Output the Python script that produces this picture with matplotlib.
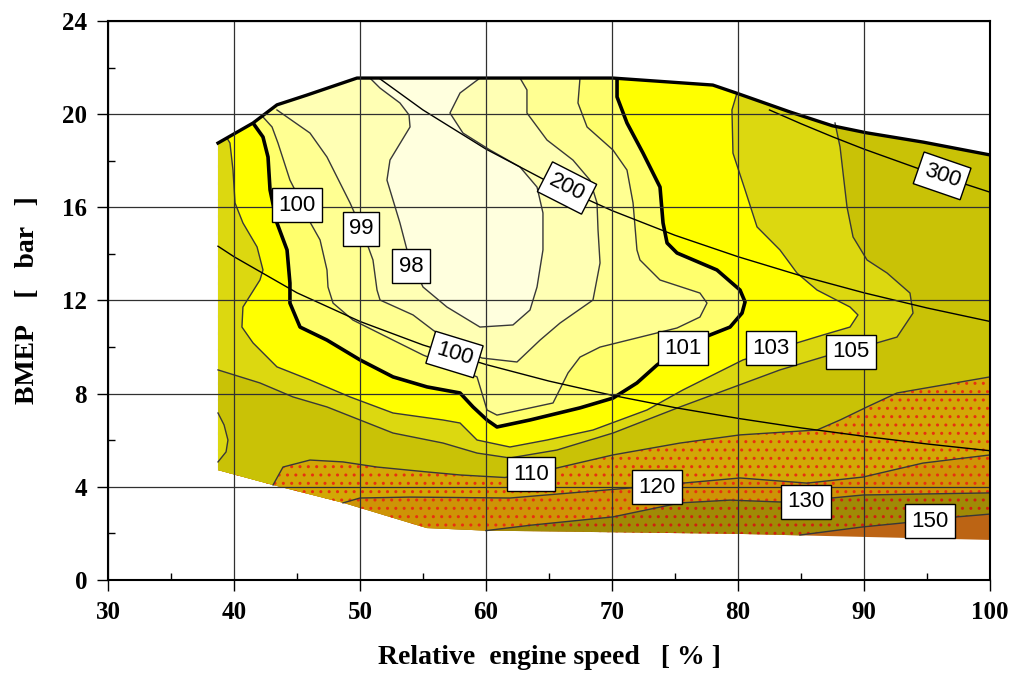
import matplotlib
matplotlib.use('Agg')
import matplotlib.pyplot as plt
from matplotlib.patches import Polygon
from matplotlib.ticker import MultipleLocator
import numpy as np

# ---------------- data ----------------
# operating envelope (relative speed %, BMEP bar)
ENV_X = [38.73, 38.73, 41.51, 43.41, 45.79, 49.76, 70.08, 78.0, 79.9, 84.1, 87.5, 90.2, 94.7, 100.0,
         100.0, 90.0, 80.0, 70.0, 60.0, 55.3, 48.7, 43.1]
ENV_Y = [4.72, 18.76, 19.62, 20.40, 20.82, 21.55, 21.55, 21.25, 20.9, 20.1, 19.5, 19.2, 18.8, 18.25,
         1.72, 1.85, 1.98, 2.05, 2.12, 2.23, 3.31, 4.08]

# relative BSFC iso-lines
X98 = [50.79, 51.59, 53.17, 53.89, 53.97, 52.38, 52.14, 53.17, 53.73, 54.37, 55.0, 56.90, 59.52, 62.14,
       63.49, 64.05, 64.52, 64.52, 64.05, 62.70, 60.32, 58.17, 57.14, 57.94, 59.52]
Y98 = [21.55, 21.12, 20.48, 19.97, 19.45, 18.03, 17.17, 15.33, 14.17, 13.31, 12.58, 11.72, 10.86, 10.95,
       11.59, 12.58, 14.17, 15.76, 16.87, 17.73, 18.46, 19.19, 20.05, 20.91, 21.55]

X99 = [43.41, 46.03, 47.38, 49.21, 50.16, 51.03, 51.35, 51.59, 54.21, 55.79, 57.78, 59.68, 62.46, 64.29,
       65.87, 68.49, 69.05, 68.89, 68.81, 68.25, 66.90, 64.84, 63.25, 63.25, 62.70]
Y99 = [20.18, 19.19, 18.16, 16.19, 15.03, 13.74, 12.45, 12.02, 11.38, 10.73, 10.00, 9.53, 9.36, 10.30,
       11.03, 12.02, 13.61, 15.03, 16.19, 17.17, 18.03, 18.89, 20.05, 21.04, 21.55]

X100 = [42.30, 43.02, 43.49, 44.44, 45.24, 46.03, 46.83, 47.38, 47.46, 47.86, 49.44, 52.62, 55.0, 59.29,
        60.08, 60.87, 65.32, 66.51, 67.46, 69.05, 75.16, 76.98, 77.54, 76.98, 73.81, 72.22, 71.98, 71.67,
        71.19, 70.08, 68.02, 67.30, 67.46]
Y100 = [19.88, 19.45, 18.76, 17.17, 16.32, 15.37, 14.60, 13.31, 12.58, 11.89, 11.16, 10.30, 9.66, 8.72,
        7.30, 7.08, 7.60, 8.89, 9.57, 10.00, 10.82, 11.29, 11.89, 12.32, 12.88, 13.74, 14.17, 16.19,
        17.60, 18.46, 19.45, 20.48, 21.55]

X101 = [41.51, 42.30, 42.70, 42.86, 43.41, 44.21, 44.44, 44.44, 45.24, 47.38, 50.0, 52.62, 55.32, 57.94,
        58.97, 60.08, 60.87, 63.49, 67.46, 70.08, 71.98, 73.57, 75.6, 77.78, 79.37, 80.32, 80.56, 80.16,
        78.33, 75.16, 74.37, 74.05, 73.81, 72.46, 71.19, 70.40, 70.40]
Y101 = [19.62, 19.02, 18.16, 16.75, 15.33, 14.17, 12.75, 11.89, 10.86, 10.30, 9.45, 8.72, 8.29, 8.03,
        7.43, 6.87, 6.57, 6.87, 7.39, 7.81, 8.46, 9.23, 10.0, 10.52, 10.86, 11.46, 11.94, 12.45,
        13.31, 14.04, 14.47, 15.33, 16.87, 18.33, 19.62, 20.74, 21.55]

X103 = [39.44, 39.68, 39.92, 40.08, 40.71, 41.83, 42.30, 42.06, 40.71, 40.63, 41.51, 43.41, 46.03, 49.21,
        52.62, 56.59, 57.94, 59.29, 61.90, 64.84, 68.49, 72.78, 75.63, 80.40, 82.54, 84.68, 86.75, 88.89,
        89.52, 88.89, 86.27, 84.68, 83.33, 81.51, 80.56, 79.60, 79.52, 79.92]
Y103 = [18.98, 18.76, 17.60, 16.19, 15.33, 14.30, 13.31, 12.88, 11.72, 10.86, 10.18, 9.15, 8.59, 7.86,
        7.17, 6.87, 6.74, 6.01, 5.71, 6.01, 6.44, 7.30, 8.16, 9.45, 9.79, 10.18, 10.52, 10.86,
        11.38, 11.72, 12.45, 13.18, 14.17, 15.16, 16.75, 18.33, 20.18, 20.91]

X105 = [38.73, 42.06, 44.68, 47.38, 50.0, 52.62, 56.59, 59.29, 61.90, 65.63, 70.08, 75.40, 83.33, 86.9,
        91.03, 92.62, 93.89, 93.65, 91.83, 90.24, 89.13, 88.65, 88.10, 87.70]
Y105 = [9.02, 8.46, 7.86, 7.43, 6.87, 6.31, 5.88, 5.45, 5.24, 5.58, 6.31, 7.43, 9.02, 9.6,
        10.18, 10.43, 11.46, 12.32, 13.18, 13.74, 14.73, 16.02, 18.59, 19.62]

XPOCKET = [38.73, 39.21, 39.52, 39.37, 38.73]
YPOCKET = [7.17, 6.66, 6.01, 5.50, 5.07]

X110 = [43.10, 43.89, 46.03, 48.65, 51.35, 55.32, 57.94, 61.5, 65.63, 70.08, 75.40, 80.16, 86.27, 88.10,
        90.24, 92.62, 100.0]
Y110 = [4.08, 4.85, 5.15, 5.07, 4.85, 4.64, 4.51, 4.40, 4.81, 5.37, 5.88, 6.23, 6.44, 6.87,
        7.43, 8.03, 8.72]

X120 = [48.65, 50.0, 53.97, 61.90, 71.43, 75.63, 80.16, 85.48, 89.92, 94.68, 100.0]
Y120 = [3.31, 3.52, 3.56, 3.52, 3.95, 4.16, 4.38, 4.16, 4.42, 5.02, 5.37]

X130 = [60.0, 63.5, 70.08, 75.40, 79.37, 83.33, 87.4, 89.92, 100.0]
Y130 = [2.12, 2.35, 2.71, 3.31, 3.43, 3.35, 3.52, 3.65, 3.74]

X150 = [84.92, 89.92, 93.10, 97.38, 100.0]
Y150 = [1.93, 2.28, 2.45, 2.71, 2.83]

# constant power lines
XP100 = [38.73, 40, 45, 50, 55, 60, 65, 70, 75, 80, 85, 90, 95, 100]
YP100 = [14.33, 13.88, 12.33, 11.10, 10.09, 9.25, 8.54, 7.93, 7.40, 6.94, 6.53, 6.17, 5.84, 5.55]
XP200 = [51.5, 55, 60, 65, 70, 75, 80, 85, 90, 95, 100]
YP200 = [21.55, 20.18, 18.50, 17.08, 15.86, 14.80, 13.88, 13.06, 12.33, 11.68, 11.10]
XP300 = [82.5, 85, 87.5, 90, 95, 100]
YP300 = [20.18, 19.59, 19.03, 18.50, 17.53, 16.65]

BSFC_LABELS = ['98', '99', '100', '101', '103', '105', '110', '120', '130', '150']
POWER_LABELS = ['100', '200', '300']

X_TICKS = [30, 40, 50, 60, 70, 80, 90, 100]
Y_TICKS = [0, 4, 8, 12, 16, 20, 24]

# ---------------- styling ----------------
C_MAX = '#BC6414'
C_150 = '#A08A06'
C_130 = '#CE9406'
C_120 = '#D2A806'
C_110 = '#C9C206'
C_105 = '#DCD810'
C_103 = '#FFFF00'
C_101 = '#FFFF6C'
C_100 = '#FFFF92'
C_99 = '#FFFFB4'
C_98 = '#FFFFDE'

fig = plt.figure(figsize=(10.19, 6.74), dpi=100)
ax = fig.add_axes([108 / 1019, 1 - 580 / 674, (990 - 108) / 1019, (580 - 21) / 674])
ax.set_xlim(30, 100)
ax.set_ylim(0, 24)

env = Polygon(np.column_stack([ENV_X, ENV_Y]), closed=True, facecolor=C_MAX,
              edgecolor='none', zorder=1)
ax.add_patch(env)

TOP = 30.0


def add_region(pts, color, hatch=None, hcolor=None):
    p = Polygon(pts, closed=True, facecolor=color, edgecolor=hcolor if hatch else 'none',
                linewidth=0, hatch=hatch, zorder=1)
    ax.add_patch(p)
    p.set_clip_path(env)


def above(xs, ys):
    pts = list(zip(xs, ys))
    pts += [(101, ys[-1]), (101, TOP), (29, TOP), (29, -1), (xs[0], -1)]
    return pts


def inside_top(xs, ys):
    pts = list(zip(xs, ys))
    pts += [(xs[-1], TOP), (xs[0], TOP)]
    return pts


plt.rcParams['hatch.linewidth'] = 1.0
add_region(above(X150, Y150), C_150, '..', '#D02010')
add_region(above(X130, Y130), C_130, '..', '#E83010')
add_region(above(X120, Y120), C_120, '..', '#E83010')
add_region(above(X110, Y110), C_110)
add_region(list(zip(X105, Y105)) + [(X105[-1], TOP), (29, TOP), (29, Y105[0])], C_105)
add_region(list(zip(XPOCKET, YPOCKET)) + [(29, YPOCKET[-1]), (29, YPOCKET[0])], C_105)
add_region(inside_top(X103, Y103), C_103)
add_region(inside_top(X101, Y101), C_101)
add_region(inside_top(X100, Y100), C_100)
add_region(inside_top(X99, Y99), C_99)
add_region(inside_top(X98, Y98), C_98)

thin = dict(color='#383838', lw=1.0, zorder=2)
for xs, ys in [(X98, Y98), (X99, Y99), (X100, Y100), (X103, Y103), (X105, Y105),
               (XPOCKET, YPOCKET), (X110, Y110), (X120, Y120), (X130, Y130), (X150, Y150)]:
    ax.plot(xs, ys, **thin)
ax.plot(X101, Y101, color='black', lw=2.6, zorder=2.2, solid_capstyle='butt')

for xs, ys in [(XP100, YP100), (XP200, YP200), (XP300, YP300)]:
    ax.plot(xs, ys, color='black', lw=1.0, zorder=2.1)

# envelope top outline
ax.plot(ENV_X[1:14], ENV_Y[1:14], color='black', lw=2.4, zorder=2.3, solid_joinstyle='round')

# labels
box = dict(boxstyle='square,pad=0.28', facecolor='white', edgecolor='black', linewidth=1.0)
bsfc_pos = [(54.05, 13.48), (50.08, 15.07), (45.0, 16.1), (75.63, 9.96), (82.62, 9.96),
            (88.97, 9.79), (63.57, 4.55), (73.57, 3.99), (85.4, 3.35), (95.24, 2.53)]
for lab, (x, y) in zip(BSFC_LABELS, bsfc_pos):
    ax.text(x, y, lab, ha='center', va='center', fontsize=16, family='Liberation Sans',
            bbox=box, zorder=6)

pow_pos = [(57.5, 9.68, -17), (66.43, 16.83, -27), (96.2, 17.35, -19)]
for lab, (x, y, r) in zip(POWER_LABELS, pow_pos):
    ax.text(x, y, lab, ha='center', va='center', fontsize=16, family='Liberation Sans',
            rotation=r, rotation_mode='anchor', bbox=box, zorder=6)

# axes styling
ax.set_xticks(X_TICKS)
ax.set_yticks(Y_TICKS)
ax.xaxis.set_minor_locator(MultipleLocator(5))
ax.yaxis.set_minor_locator(MultipleLocator(2))
ax.tick_params(axis='both', which='major', direction='out', length=8, width=1.0, pad=7,
               labelsize=18)
ax.tick_params(axis='both', which='minor', direction='in', length=5, width=1.0)
for lab in ax.get_xticklabels() + ax.get_yticklabels():
    lab.set_fontfamily('Liberation Serif')
    lab.set_fontweight('bold')
ax.set_axisbelow(False)
ax.grid(True, which='major', color='#303030', lw=0.9)
for s in ax.spines.values():
    s.set_linewidth(1.5)
    s.set_color('black')
    s.set_zorder(7)

ax.set_xlabel('Relative  engine speed   [ % ]', fontsize=20, family='Liberation Serif',
              fontweight='bold', labelpad=15)
ax.set_ylabel('BMEP    [   bar   ]', fontsize=20, family='Liberation Serif', fontweight='bold',
              labelpad=16)

fig.savefig('out.png', dpi=100)
